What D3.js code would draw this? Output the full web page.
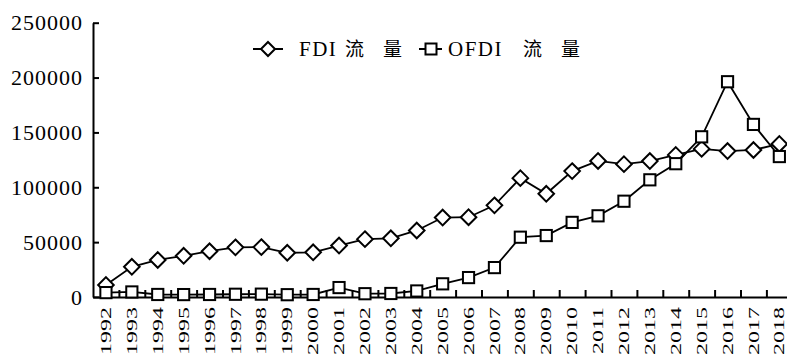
<!DOCTYPE html>
<html>
<head>
<meta charset="utf-8">
<script src="https://cdn.jsdelivr.net/npm/d3@7"></script>
<style>
  body { margin: 0; background: #fff; }
  svg { display: block; }
</style>
</head>
<body>
<svg id="chart"></svg>
<script>
const years = ["1992", "1993", "1994", "1995", "1996", "1997", "1998", "1999", "2000", "2001",
  "2002", "2003", "2004", "2005", "2006", "2007", "2008", "2009", "2010", "2011",
  "2012", "2013", "2014", "2015", "2016", "2017", "2018"];
const fdi = [11008, 27515, 33767, 37521, 41726, 45257, 45463, 40319, 40715, 46878,
  52743, 53505, 60630, 72406, 72715, 83521, 108312, 94065, 114734, 123985,
  121080, 123911, 129500, 135000, 133000, 134000, 139500];
const ofdi = [4000, 4600, 2300, 2200, 2300, 2500, 2600, 2100, 2300, 8600,
  3000, 3200, 5500, 12000, 17700, 26800, 54500, 56000, 68000, 74000,
  87300, 106800, 121500, 146000, 196200, 157300, 128000];
const yTicks = [0, 50000, 100000, 150000, 200000, 250000];
const seriesNames = ["FDI", "OFDI"];

const serif = "Liberation Serif, DejaVu Serif, Times New Roman, serif";
const cjk = "Noto Sans CJK SC, sans-serif";

const width = 787, height = 356;
const svg = d3.select("#chart").attr("width", width).attr("height", height);

// plot box (right edge runs past the window, like the source image)
const plotLeft = 93, plotBottom = 297, plotTop = 22.7, step = 25.9;

const x = d3.scaleBand().domain(years).range([plotLeft, plotLeft + years.length * step]);
const y = d3.scaleLinear().domain([0, 250000]).range([plotBottom, plotTop]);
const cx = d => x(d) + x.bandwidth() / 2;

// y axis, ticks pointing inward
const yAxis = d3.axisLeft(y).tickValues(yTicks).tickFormat(d3.format("d"))
  .tickSizeInner(-6).tickSizeOuter(0).tickPadding(10);
const gy = svg.append("g").attr("transform", `translate(${plotLeft},0)`).call(yAxis)
  .attr("font-family", null).attr("font-size", null);
gy.select(".domain").attr("stroke", "#000").attr("stroke-width", 2);
gy.selectAll(".tick line").attr("stroke", "#000").attr("stroke-width", 2);
gy.selectAll(".tick text").attr("font-family", serif).attr("font-size", 22)
  .attr("letter-spacing", 1).attr("fill", "#000");

// x axis: ticks between categories
const xb = d3.scaleLinear().domain([0, years.length]).range(x.range());
const xAxis = d3.axisBottom(xb).tickValues(d3.range(1, years.length + 1))
  .tickSizeInner(-7).tickSizeOuter(0).tickFormat("");
const gx = svg.append("g").attr("transform", `translate(0,${plotBottom})`).call(xAxis);
gx.select(".domain").attr("stroke", "#000").attr("stroke-width", 2);
gx.selectAll(".tick line").attr("stroke", "#000").attr("stroke-width", 2);

svg.append("g").selectAll("text").data(years).join("text")
  .attr("transform", d => `translate(${cx(d)},${plotBottom + 10}) rotate(-90) scale(1.6,1)`)
  .attr("text-anchor", "end")
  .attr("dy", "0.34em")
  .attr("font-family", serif).attr("font-size", 15)
  .text(d => d);

// lines
const line = d3.line().x((d, i) => cx(years[i])).y(d => y(d));
[fdi, ofdi].forEach(s => {
  svg.append("path").datum(s).attr("d", line)
    .attr("fill", "none").attr("stroke", "#000").attr("stroke-width", 1.8);
});

// markers
const diamond = 7.8, square = 5.6;
svg.append("g").selectAll("path").data(fdi).join("path")
  .attr("d", (d, i) => {
    const px = cx(years[i]), py = y(d);
    return `M${px},${py - diamond}L${px + diamond},${py}L${px},${py + diamond}L${px - diamond},${py}Z`;
  })
  .attr("fill", "#fff").attr("stroke", "#000").attr("stroke-width", 2);

svg.append("g").selectAll("rect").data(ofdi).join("rect")
  .attr("x", (d, i) => cx(years[i]) - square)
  .attr("y", d => y(d) - square)
  .attr("width", square * 2).attr("height", square * 2)
  .attr("fill", "#fff").attr("stroke", "#000").attr("stroke-width", 2);

// legend
const legend = svg.append("g");
const ly = 49;
legend.append("line").attr("x1", 253).attr("x2", 283).attr("y1", ly).attr("y2", ly)
  .attr("stroke", "#000").attr("stroke-width", 2);
legend.append("path")
  .attr("d", `M268,${ly - 7}L275,${ly}L268,${ly + 7}L261,${ly}Z`)
  .attr("fill", "#fff").attr("stroke", "#000").attr("stroke-width", 2);
legend.append("line").attr("x1", 419).attr("x2", 442).attr("y1", ly).attr("y2", ly)
  .attr("stroke", "#000").attr("stroke-width", 2);
legend.append("rect").attr("x", 425.5).attr("y", ly - 5.5).attr("width", 11).attr("height", 11)
  .attr("fill", "#fff").attr("stroke", "#000").attr("stroke-width", 2);

[[seriesNames[0], 299, 345], [seriesNames[1], 448, 523]].forEach(([name, lx, cjkX]) => {
  legend.append("text").attr("x", lx).attr("y", 56)
    .attr("font-family", serif).attr("font-size", 21).attr("letter-spacing", 1.5)
    .text(name);
  legend.append("text").attr("x", cjkX).attr("y", 56)
    .attr("font-family", cjk).attr("font-size", 19).attr("letter-spacing", 19)
    .text("流量");
});
</script>
</body>
</html>
